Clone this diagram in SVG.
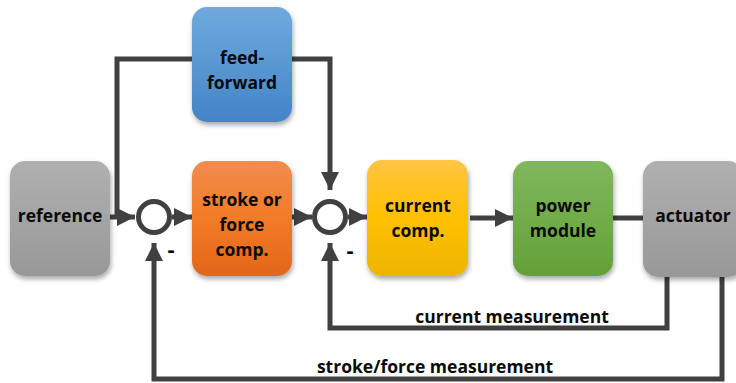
<svg xmlns="http://www.w3.org/2000/svg" width="736" height="383" viewBox="0 0 736 383">
<defs>
<linearGradient id="gBlue" x1="0" y1="0" x2="0" y2="1"><stop offset="0" stop-color="#70a9dd"/><stop offset="1" stop-color="#4384c7"/></linearGradient>
<linearGradient id="gOrange" x1="0" y1="0" x2="0" y2="1"><stop offset="0" stop-color="#f28c50"/><stop offset="0.5" stop-color="#f37b26"/><stop offset="1" stop-color="#e2661a"/></linearGradient>
<linearGradient id="gYellow" x1="0" y1="0" x2="0" y2="1"><stop offset="0" stop-color="#ffc443"/><stop offset="0.5" stop-color="#ffc000"/><stop offset="1" stop-color="#edb400"/></linearGradient>
<linearGradient id="gGreen" x1="0" y1="0" x2="0" y2="1"><stop offset="0" stop-color="#80b75d"/><stop offset="1" stop-color="#63a136"/></linearGradient>
<linearGradient id="gGray" x1="0" y1="0" x2="0" y2="1"><stop offset="0" stop-color="#b0b0b0"/><stop offset="1" stop-color="#989898"/></linearGradient>
<filter id="sh" x="-20%" y="-20%" width="140%" height="140%"><feDropShadow dx="1" dy="3" stdDeviation="2.5" flood-color="#000" flood-opacity="0.35"/></filter>
<marker id="arr" viewBox="0 0 10 10" refX="10" refY="5" markerWidth="3.6" markerHeight="3.6" orient="auto" markerUnits="strokeWidth"><path d="M0,0 L10,5 L0,10 Z" fill="#404040"/></marker>
</defs>
<style>
.box{filter:url(#sh)}
.t{font-family:"Open Sans","Liberation Sans",sans-serif;font-weight:bold;font-size:17.5px;fill:#0a0a0a;text-anchor:middle}
.m{font-family:"Open Sans","Liberation Sans",sans-serif;font-weight:bold;font-size:22px;fill:#0a0a0a;text-anchor:middle}
.ln{fill:none;stroke:#404040;stroke-width:5;stroke-linejoin:miter}
.sum{fill:#fff;stroke:#404040;stroke-width:5}
</style>
<g id="connectors">
<path class="ln" d="M110,217 H135" marker-end="url(#arr)"/>
<path class="ln" d="M117,217 V59 H192"/>
<path class="ln" d="M292,59 H330 V190" marker-end="url(#arr)"/>
<path class="ln" d="M172,217 H192" marker-end="url(#arr)"/>
<path class="ln" d="M292,217 H312" marker-end="url(#arr)"/>
<path class="ln" d="M348,217 H367" marker-end="url(#arr)"/>
<path class="ln" d="M470,218 H513" marker-end="url(#arr)"/>
<path class="ln" d="M613,218 H643"/>
<path class="ln" d="M667,277 V328 H330 V243" marker-end="url(#arr)"/>
<path class="ln" d="M722,277 V379 H154 V243" marker-end="url(#arr)"/>
<text class="m" x="171" y="257">-</text>
<text class="m" x="350" y="258">-</text>
<text class="t" x="512" y="323">current measurement</text>
<text class="t" x="435" y="373">stroke/force measurement</text>
</g>
<g id="sum1"><circle class="sum" cx="154" cy="217" r="15.5"/></g>
<g id="sum2"><circle class="sum" cx="330" cy="217" r="15.5"/></g>
<g id="reference"><rect class="box" x="10" y="161" width="100" height="115" rx="15" fill="url(#gGray)"/><text class="t" x="60" y="222">reference</text></g>
<g id="feedforward"><rect class="box" x="192" y="7" width="100" height="115" rx="15" fill="url(#gBlue)"/><text class="t" x="242" y="64">feed-</text><text class="t" x="242" y="89">forward</text></g>
<g id="stroke"><rect class="box" x="192" y="161" width="100" height="115" rx="15" fill="url(#gOrange)"/><text class="t" x="242" y="206">stroke or</text><text class="t" x="242" y="231">force</text><text class="t" x="242" y="256">comp.</text></g>
<g id="current"><rect class="box" x="367" y="160" width="101" height="116" rx="15" fill="url(#gYellow)"/><text class="t" x="418" y="212">current</text><text class="t" x="418" y="237">comp.</text></g>
<g id="power"><rect class="box" x="513" y="161" width="100" height="115" rx="15" fill="url(#gGreen)"/><text class="t" x="563" y="212">power</text><text class="t" x="563" y="237">module</text></g>
<g id="actuator"><rect class="box" x="643" y="161" width="100" height="116" rx="15" fill="url(#gGray)"/><text class="t" x="693" y="222">actuator</text></g>
</svg>
